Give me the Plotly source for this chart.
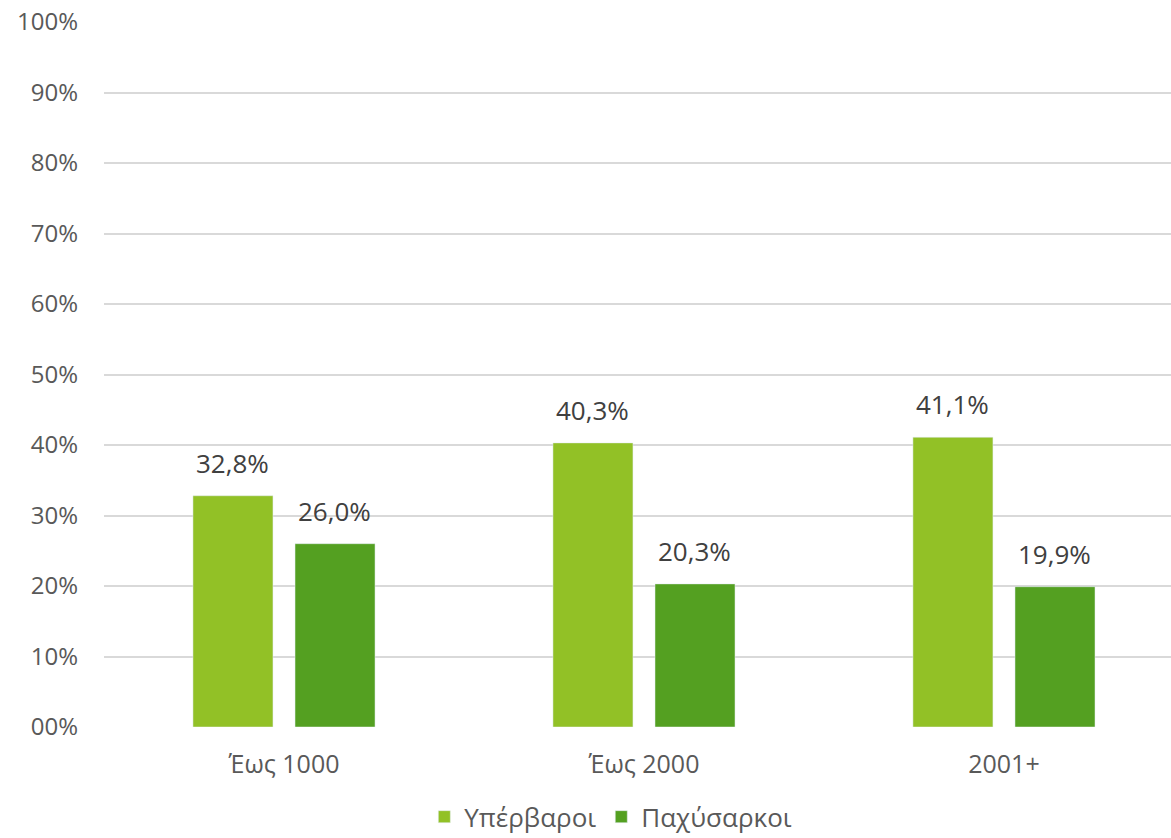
import plotly.graph_objects as go

categories = ["Έως 1000", "Έως 2000", "2001+"]
overweight = [32.8, 40.3, 41.1]
obese = [26.0, 20.3, 19.9]
series_names = ["Υπέρβαροι", "Παχύσαρκοι"]
tick_vals = [0, 10, 20, 30, 40, 50, 60, 70, 80, 90, 100]
tick_text = ["00%", "10%", "20%", "30%", "40%", "50%", "60%", "70%", "80%", "90%", "100%"]

def fmt(v):
    return f"{v:.1f}".replace(".", ",") + "%"

colors = ["#92C126", "#54A021"]
font_family = "Open Sans, DejaVu Sans, sans-serif"

fig = go.Figure()
for name, vals, col in zip(series_names, [overweight, obese], colors):
    fig.add_trace(go.Bar(
        x=categories, y=vals, name=name, marker_color=col,
    ))

annotations = []
for vals, shift in zip([overweight, obese], [-51, 51]):
    for c, v in zip(categories, vals):
        annotations.append(dict(
            x=c, y=v, xref="x", yref="y", text=fmt(v), showarrow=False,
            xshift=shift, yanchor="bottom", yshift=13,
            font=dict(size=26, color="#404040", family=font_family),
        ))

fig.update_layout(
    width=1171, height=838,
    margin=dict(l=104, r=0, t=22, b=111, autoexpand=False),
    paper_bgcolor="white", plot_bgcolor="white",
    barmode="group", bargap=0.433, bargroupgap=0.216,
    font=dict(family=font_family, color="#595959", size=24),
    xaxis=dict(range=[-0.5, 2.464], showgrid=False, zeroline=False,
               tickfont=dict(size=25, color="#595959"), ticks="", ticklabelstandoff=20),
    yaxis=dict(range=[0, 100], tickvals=tick_vals, ticktext=tick_text,
               showgrid=True, gridcolor="#D9D9D9", gridwidth=2, zeroline=False,
               tickfont=dict(size=24, color="#595959"), ticks="", ticklabelstandoff=25),
    legend=dict(orientation="h", x=0.475, xanchor="center", y=-0.094, yanchor="top",
                font=dict(size=26, color="#595959"), itemwidth=30),
    annotations=annotations,
    showlegend=True,
)

fig.write_html("out.html")
